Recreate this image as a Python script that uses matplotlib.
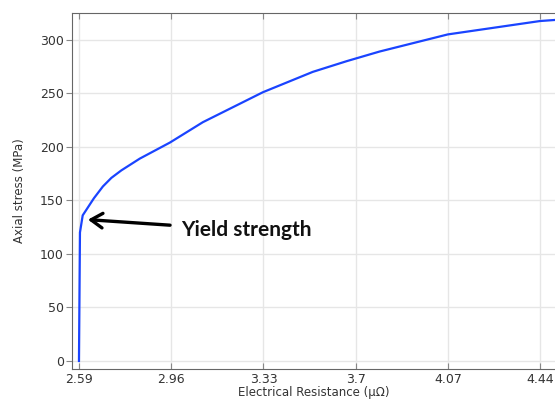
import matplotlib

matplotlib.use("Agg")
import matplotlib.pyplot as plt  # noqa: E402

# stress-resistance curve
resistance = [2.590, 2.594, 2.605, 2.650, 2.686, 2.720, 2.760, 2.834, 2.955, 3.087,
              3.328, 3.528, 3.664, 3.796, 4.070, 4.440, 4.500]
stress = [0, 120, 136, 152, 163, 171, 178, 189, 204, 223,
          251, 270, 280, 289, 305, 317.5, 318.5]
x_ticks = [2.59, 2.96, 3.33, 3.7, 4.07, 4.44]
x_labels = ["2.59", "2.96", "3.33", "3.7", "4.07", "4.44"]
y_ticks = [0, 50, 100, 150, 200, 250, 300]
yield_point = (2.626, 132)
label_point = (3.0, 122)

fig = plt.figure(figsize=(5.55, 4.0), dpi=100)
ax = fig.add_axes([0.1297, 0.0775, 0.8703, 0.89])

ax.plot(resistance, stress, color="#1a44ff", lw=1.6, zorder=3)

ax.set_xlim(2.562, 4.500)
ax.set_ylim(-7.5, 325)
ax.set_xticks(x_ticks)
ax.set_xticklabels(x_labels)
ax.set_yticks(y_ticks)
ax.grid(color="#e6e6e6", lw=1.0)
ax.set_axisbelow(True)

for side in ("left", "bottom", "top"):
    ax.spines[side].set_color("#666666")
ax.spines["right"].set_visible(False)
ax.tick_params(axis="x", direction="in", top=True, length=4, color="#888888",
               labelsize=9, labelcolor="#333333", pad=3)
ax.tick_params(axis="y", direction="out", length=4, color="#888888",
               labelsize=9, labelcolor="#333333", pad=2)

ax.set_xlabel("Electrical Resistance (μΩ)", fontsize=8.5, color="#333333", labelpad=0)
ax.set_ylabel("Axial stress (MPa)", fontsize=8.5, color="#333333", labelpad=10)

ax.annotate("Yield strength", xy=yield_point, xytext=label_point,
            fontsize=15, fontweight="bold", family=["Lato", "DejaVu Sans"],
            color="#111111", va="center", ha="left",
            arrowprops=dict(arrowstyle="->,head_length=0.55,head_width=0.35",
                            color="black", lw=2.4, shrinkA=6, shrinkB=0))

fig.savefig("out.png", dpi=100)
